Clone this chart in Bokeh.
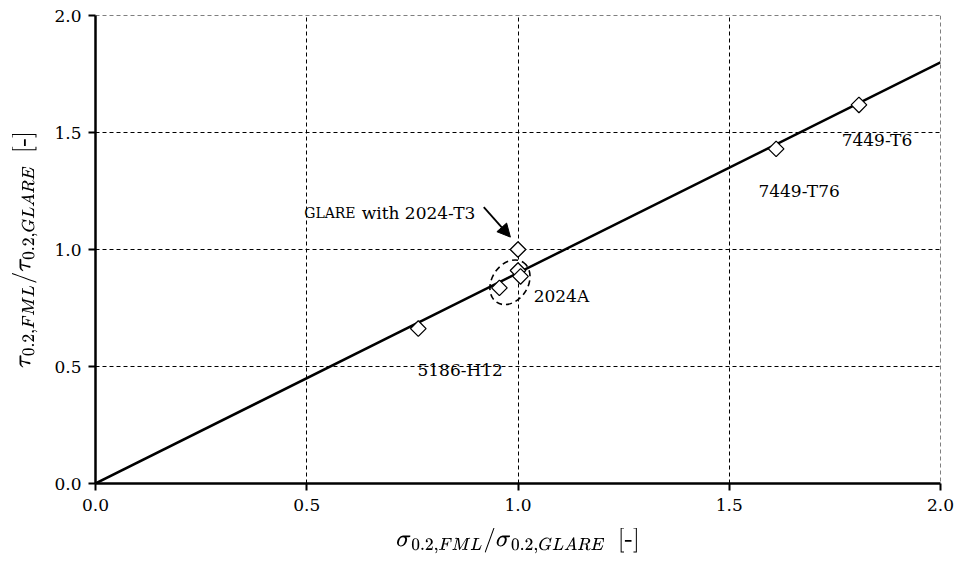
import math
from bokeh.plotting import figure
from bokeh.models import (Range1d, SingleIntervalTicker, Arrow, NormalHead, ColumnDataSource,
                          CustomJSTickFormatter, Span)
from bokeh.core.properties import value
from bokeh.embed import file_html
from bokeh.resources import INLINE

# Yield-strength ratios (FML / GLARE) for tension vs. shear
sigma_ratio = [0.764, 0.956, 1.000, 1.000, 1.006, 1.611, 1.807]
tau_ratio = [0.662, 0.836, 1.000, 0.910, 0.885, 1.430, 1.618]

# Proportional trend line tau = 0.9 * sigma
fit_x = [0.0, 2.0]
fit_y = [0.0, 1.8]

# Alloy labels
label_names = ["2024A", "5186-H12", "7449-T76", "7449-T6"]
label_x = [1.037, 0.762, 1.569, 1.766]
label_y = [0.803, 0.483, 1.252, 1.470]

FONT = "DejaVu Serif"

p = figure(width=957, height=569, output_backend="svg", toolbar_location=None,
           x_range=Range1d(0, 2.0), y_range=Range1d(0, 2.0),
           min_border_left=95, min_border_right=17, min_border_top=15, min_border_bottom=86)
p.outline_line_color = None
p.background_fill_color = "white"

for ax in (p.xaxis[0], p.yaxis[0]):
    ax.ticker = SingleIntervalTicker(interval=0.5, num_minor_ticks=0)
    ax.formatter = CustomJSTickFormatter(code="return tick.toFixed(1);")
    ax.axis_line_color = "black"
    ax.axis_line_width = 2.5
    ax.major_tick_line_color = "black"
    ax.major_tick_line_width = 2
    ax.major_tick_in = 0
    ax.major_tick_out = 7
    ax.minor_tick_line_color = None
    ax.major_label_text_font = FONT
    ax.major_label_text_font_size = "17px"
    ax.major_label_text_color = "black"
    ax.axis_label_text_font = FONT
    ax.axis_label_text_font_size = "20px"
    ax.axis_label_text_font_style = "normal"
    ax.axis_label_text_color = "black"

p.xaxis[0].major_label_standoff = 8
p.yaxis[0].major_label_standoff = 7
p.xaxis[0].axis_label = r"$$\sigma_{0.2,FML}/\sigma_{0.2,GLARE}\ \ [\text{-}]$$"
p.yaxis[0].axis_label = r"$$\tau_{0.2,FML}/\tau_{0.2,GLARE}\ \ [\text{-}]$$"
p.xaxis[0].axis_label_standoff = 14
p.yaxis[0].axis_label_standoff = 14

for g in (p.xgrid[0], p.ygrid[0]):
    g.grid_line_color = "black"
    g.grid_line_width = 1
    g.grid_line_dash = "4 3"

# Dashed frame edges at the upper limits of both axes
p.add_layout(Span(location=2.0, dimension="width", line_color="black",
                  line_width=1, line_dash="4 3"))
p.add_layout(Span(location=2.0, dimension="height", line_color="black",
                  line_width=1, line_dash="4 3"))

# Trend line
p.line(fit_x, fit_y, line_color="black", line_width=2.5)

# Data points as open diamonds
src = ColumnDataSource(dict(x=sigma_ratio, y=tau_ratio))
p.scatter("x", "y", source=src, marker="square", angle=math.pi / 4, size=11,
          fill_color="white", line_color="black", line_width=1.3)

# Dashed ellipse around the 2024A cluster
p.ellipse(x=[0.981], y=[0.860], width=48, height=36, width_units="screen",
          height_units="screen", angle=0.98, fill_color=None,
          line_color="black", line_width=1.6, line_dash="6 4")

# Alloy labels
p.text(label_x, label_y, text=label_names, text_font=value(FONT),
       text_font_size="17px", text_align="left", text_baseline="middle",
       text_color="black")

# GLARE annotation with small caps
p.text([0.494], [1.158], text=["GLARE"], text_font=value(FONT),
       text_font_size="14px", text_align="left", text_baseline="alphabetic",
       text_color="black")
p.text([0.630], [1.158], text=["with 2024-T3"], text_font=value(FONT),
       text_font_size="17px", text_align="left", text_baseline="alphabetic",
       text_color="black")
p.add_layout(Arrow(end=NormalHead(size=13, fill_color="black", line_color="black"),
                   x_start=0.919, y_start=1.181, x_end=0.982, y_end=1.053,
                   line_color="black", line_width=1.8))

open("out.html", "w").write(file_html(p, INLINE))
